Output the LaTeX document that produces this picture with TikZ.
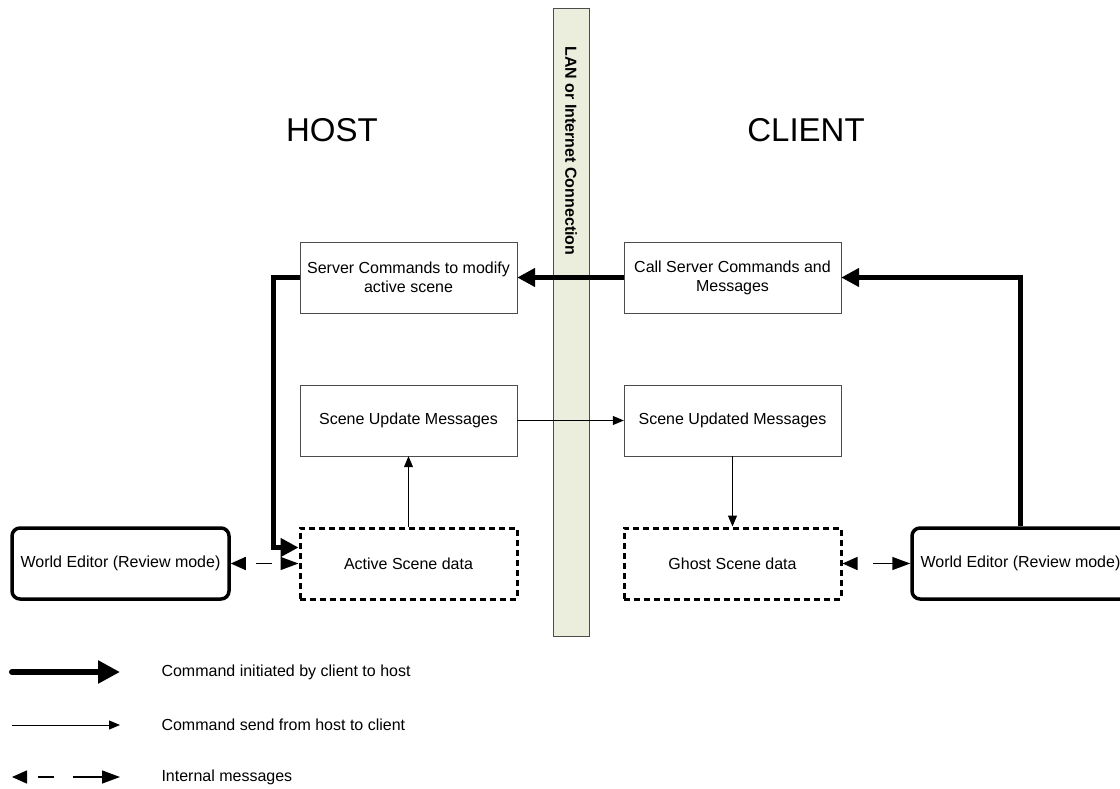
\documentclass[tikz,border=0pt]{standalone}
\usepackage{fontspec}
\setmainfont{Liberation Sans}
\usetikzlibrary{arrows.meta}
\definecolor{lanfill}{HTML}{EBEEDC}

\begin{document}
\begin{tikzpicture}[
      x=1pt, y=-1pt,
      font=\fontsize{16}{19}\selectfont,
      box/.style={
        rectangle,
        draw=black!70,
        thin,
        align=center,
        minimum width=217pt,
        minimum height=71pt
      },
      data/.style={
        box,
        draw=black,
        line width=3pt,
        dash pattern=on 6pt off 4pt
      },
      editor/.style={
        box,
        draw=black,
        line width=3.5pt,
        rounded corners=8pt
      },
      side/.style={font=\fontsize{33}{40}\selectfont},
      cmd/.style={line width=5pt, -{Triangle[length=18pt,width=18pt]}},
      upd/.style={line width=1pt, -{Triangle[length=11pt,width=9pt]}},
      intmsg/.style={line width=1.5pt, {Triangle[length=15pt,width=13pt]}-{Triangle[length=18pt,width=13pt]}}
    ]

    \useasboundingbox (0,0) rectangle (1120,789);

    \node [rectangle, draw=black!70, fill=lanfill, minimum width=36pt, minimum height=628pt] (LanBar) at (571,322) {};
    \node [rotate=-90, anchor=west, font=\fontsize{16}{19}\selectfont\bfseries] (LanText) at (571,43) {LAN or Internet Connection};

    \node [side] (Host) at (332,130) {HOST};
    \node [side] (Client) at (806,130) {CLIENT};

    \node [box] (ServerCmd) at (408.5,277.5) {Server Commands to modify\\active scene};
    \node [box] (CallCmd) at (732.5,277.5) {Call Server Commands and\\Messages};
    \node [box] (UpdMsg) at (408.5,420.5) {Scene Update Messages};
    \node [box] (UpdedMsg) at (732.5,420.5) {Scene Updated Messages};
    \node [data] (ActScene) at (408.5,563.5) {Active Scene data};
    \node [data] (GhostScene) at (732.5,563.5) {Ghost Scene data};
    \node [editor] (EditHost) at (120.5,563.5) {World Editor (Review mode)};
    \node [editor] (EditClient) at (1020.5,563.5) {World Editor (Review mode)};

    \draw [cmd] (CallCmd) -- (ServerCmd);
    \draw [cmd] (EditClient.north) |- (CallCmd.east);
    \draw [cmd] (ServerCmd.west) -- ++(-26,0) |- ([yshift=16pt]ActScene.west);
    \draw [upd] (ActScene) -- (UpdMsg);
    \draw [upd] (UpdMsg) -- (UpdedMsg);
    \draw [upd] (UpdedMsg) -- (GhostScene);
    \draw [intmsg, dash pattern=on 0pt off 11pt on 16pt off 40pt] (EditHost) -- (ActScene);
    \draw [intmsg, dash pattern=on 0pt off 16pt on 40pt] (GhostScene) -- (EditClient);

    \coordinate (LegA1) at (12,672);
    \coordinate (LegA2) at (120,672);
    \coordinate (LegB1) at (12,725);
    \coordinate (LegB2) at (120,725);
    \coordinate (LegC1) at (12,777);
    \coordinate (LegC2) at (120,777);
    \draw [cmd, line cap=round, line width=6pt, -{Triangle[length=22pt,width=22pt]}] (LegA1) -- (LegA2);
    \draw [upd] (LegB1) -- (LegB2);
    \draw [intmsg, dash pattern=on 0pt off 11pt on 16pt off 19pt on 30pt] (LegC1) -- (LegC2);
    \node [anchor=west] (LegAText) at (158,672) {Command initiated by client to host};
    \node [anchor=west] (LegBText) at (158,725) {Command send from host to client};
    \node [anchor=west] (LegCText) at (158,777) {Internal messages};

    \end{tikzpicture}
\end{document}
